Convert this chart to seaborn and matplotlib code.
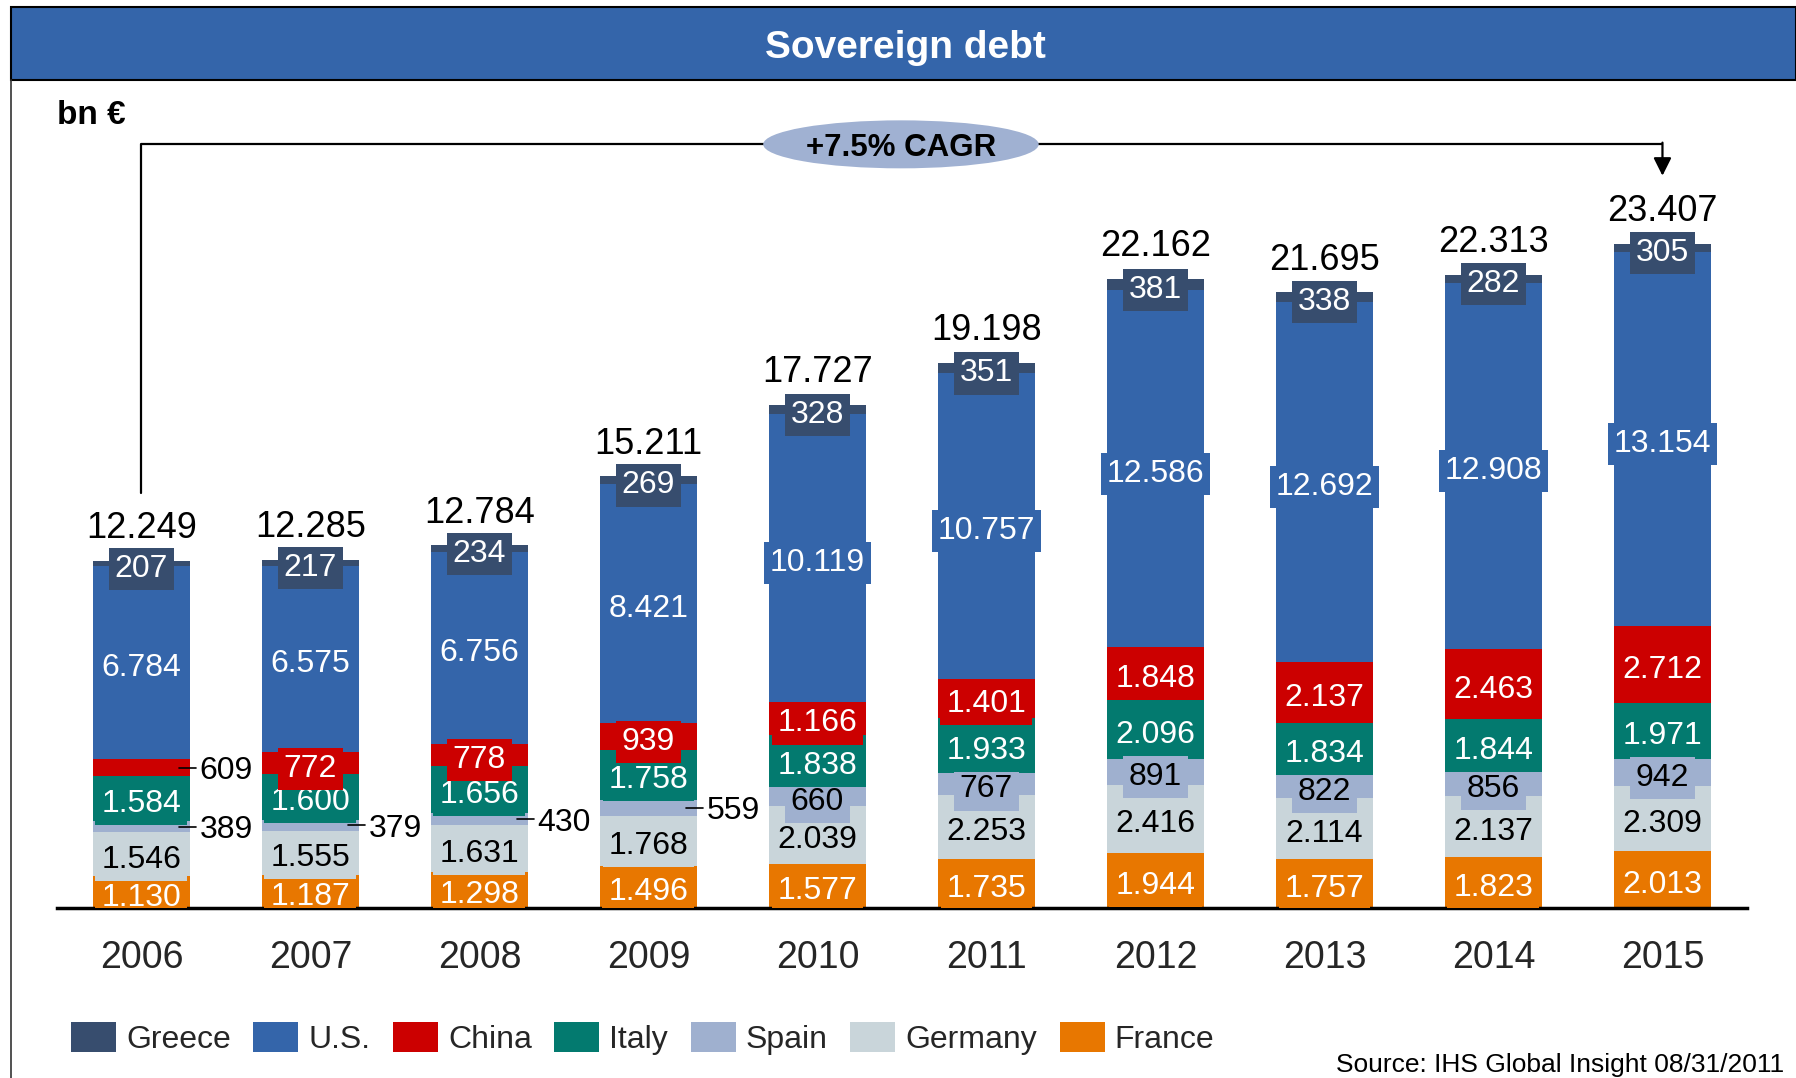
import pandas as pd
import numpy as np
import seaborn as sns
import matplotlib
matplotlib.use("Agg")
from matplotlib import pyplot as plt
from matplotlib.patches import Ellipse, Patch, Rectangle
from matplotlib.lines import Line2D

# Data (bn EUR), bottom -> top of each stack
years = [2006, 2007, 2008, 2009, 2010, 2011, 2012, 2013, 2014, 2015]
france = [1130, 1187, 1298, 1496, 1577, 1735, 1944, 1757, 1823, 2013]
germany = [1546, 1555, 1631, 1768, 2039, 2253, 2416, 2114, 2137, 2309]
spain = [389, 379, 430, 559, 660, 767, 891, 822, 856, 942]
italy = [1584, 1600, 1656, 1758, 1838, 1933, 2096, 1834, 1844, 1971]
china = [609, 772, 778, 939, 1166, 1401, 1848, 2137, 2463, 2712]
us = [6784, 6575, 6756, 8421, 10119, 10757, 12586, 12692, 12908, 13154]
greece = [207, 217, 234, 269, 328, 351, 381, 338, 282, 305]
totals = [12249, 12285, 12784, 15211, 17727, 19198, 22162, 21695, 22313, 23407]

series = ["France", "Germany", "Spain", "Italy", "China", "U.S.", "Greece"]
legend_order = ["Greece", "U.S.", "China", "Italy", "Spain", "Germany", "France"]
colors = {"Greece": "#374d6e", "U.S.": "#3465aa", "China": "#cc0000",
          "Italy": "#037a6f", "Spain": "#9fb0cf", "Germany": "#c9d5da",
          "France": "#e87700"}
text_colors = {"Greece": "white", "U.S.": "white", "China": "white",
               "Italy": "white", "Spain": "black", "Germany": "black",
               "France": "white"}
# labels drawn outside the bar with a small leader dash
outside = {(2006, "China"), (2006, "Spain"), (2007, "Spain"),
           (2008, "Spain"), (2009, "Spain")}

df = pd.DataFrame({"year": [str(y) for y in years], "France": france,
                   "Germany": germany, "Spain": spain, "Italy": italy,
                   "China": china, "U.S.": us, "Greece": greece})


def fmt(v):
    return f"{v:,}".replace(",", ".")


sns.set_style("white")
plt.rcParams["font.family"] = ["Liberation Sans", "DejaVu Sans"]

fig = plt.figure(figsize=(17.96, 10.78), dpi=100)
ax = fig.add_axes([0.0317, 0.1573, 0.9410, 0.7499])

# stacked bars: draw cumulative heights, tallest first
cum = df[series].cumsum(axis=1)
for name in reversed(series):
    sns.barplot(x=df["year"], y=cum[name], color=colors[name], saturation=1,
                width=0.57, linewidth=0, errorbar=None, ax=ax)

# segment labels
for i, yr in enumerate(years):
    below = 0
    for name in series:
        v = df[name].iloc[i]
        mid = below + v / 2
        if (yr, name) in outside:
            ax.plot([i + 0.22, i + 0.32], [mid, mid], color="black", lw=1.2, zorder=4)
            ax.text(i + 0.345, mid, fmt(v), ha="left", va="center_baseline",
                    fontsize=23, color="black")
        else:
            ax.text(i, mid - 60, fmt(v), ha="center", va="center_baseline", fontsize=23,
                    color=text_colors[name], zorder=4, clip_on=True,
                    bbox=dict(boxstyle="square,pad=0.19", fc=colors[name], ec="none"))
        below += v
    ax.text(i, totals[i] + 800, fmt(totals[i]), ha="center", va="baseline",
            fontsize=26, color="black")

# CAGR bracket
y_br = 26905
ax.plot([0, 0, 9], [14644, y_br, y_br], color="black", lw=1.6, zorder=2)
ax.annotate("", xy=(9, 25800), xytext=(9, y_br + 60),
            arrowprops=dict(arrowstyle="-|>,head_length=0.6,head_width=0.3",
                            mutation_scale=18, color="black", lw=1.6,
                            shrinkA=0, shrinkB=0))
ax.add_patch(Ellipse((4.494, y_br), 1.63, 1690, fc="#a0b1d2", ec="none", zorder=3))
ax.text(4.494, y_br, "+7.5% CAGR", ha="center", va="center_baseline", fontsize=22.5,
        fontweight="bold", color="black", zorder=4)

ax.set_xlim(-0.5, 9.5)
ax.set_ylim(0, 28465)
ax.set_xlabel("")
ax.set_ylabel("")
ax.set_yticks([])
ax.tick_params(axis="x", length=0, labelsize=27, pad=22.5)
for s in ["left", "right", "top"]:
    ax.spines[s].set_visible(False)
ax.spines["bottom"].set_color("black")
ax.spines["bottom"].set_linewidth(2.5)

# title band and frame
fig.patches.append(Rectangle((0.0064, 0.9258), 0.9936, 0.068, transform=fig.transFigure,
                             fc="#3465aa", ec="black", lw=1.5, zorder=0))
fig.lines.append(Line2D([0.0064, 0.0064], [0, 0.9258], transform=fig.transFigure,
                        color="#333333", lw=1.2))
fig.text(0.504, 0.9553, "Sovereign debt", ha="center", va="center", fontsize=28,
         fontweight="bold", color="white")
fig.text(0.0317, 0.893, "bn €", ha="left", va="center", fontsize=24,
         fontweight="bold", color="black")

# legend
handles = [Patch(facecolor=colors[n], edgecolor="none", label=n) for n in legend_order]
fig.legend(handles=handles, loc="center left", bbox_to_anchor=(0.0395, 0.0365),
           ncol=7, frameon=False, fontsize=23, handlelength=1.4, handleheight=1.06,
           handletextpad=0.32, columnspacing=0.71, borderpad=0, borderaxespad=0)

fig.text(0.9936, 0.012, "Source: IHS Global Insight 08/31/2011", ha="right",
         va="center", fontsize=19, color="black")

fig.savefig("out.png", dpi=100)
